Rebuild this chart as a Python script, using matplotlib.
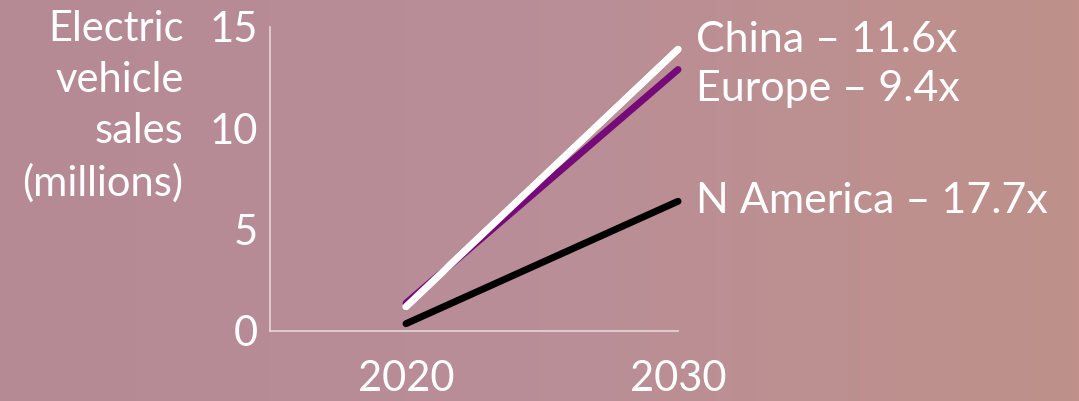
import matplotlib.pyplot as plt
import numpy as np
from matplotlib.colors import LinearSegmentedColormap

plt.rcParams['font.family'] = ['Lato', 'DejaVu Sans']

years = [2020, 2030]
china = [1.2, 13.9]
europe = [1.37, 12.9]
n_america = [0.36, 6.4]
labels = ['China \u2013 11.6x', 'Europe \u2013 9.4x', 'N America \u2013 17.7x']
colours = ['white', '#760a78', 'black']
label_offsets = [7, -14, 0]

fig = plt.figure(figsize=(10.79, 4.01), dpi=100)

# background gradient
bg = fig.add_axes([0, 0, 1, 1], zorder=-1)
cmap = LinearSegmentedColormap.from_list('bg', ['#b68a95', '#ba8e98', '#bf918a'])
grad = np.linspace(0, 1, 256).reshape(1, -1)
bg.imshow(grad, aspect='auto', cmap=cmap, extent=[0, 1, 0, 1])
bg.axis('off')

ax = fig.add_axes([0.2502, 0.1746, 0.3782, 0.7581])
ax.patch.set_alpha(0)

for series, col, lab, off in zip([china, europe, n_america], colours, labels, label_offsets):
    ax.plot(years, series, color=col, lw=5, solid_capstyle='round', clip_on=False)
    ax.annotate(lab, xy=(years[-1], series[-1]), xytext=(13, off),
                textcoords='offset points', va='center', ha='left',
                color='white', fontsize=31, annotation_clip=False)

# redraw china on top of europe
ax.plot(years, china, color='white', lw=5, solid_capstyle='round', clip_on=False)

ax.set_xlim(2015, 2030)
ax.set_ylim(0, 15)
ax.set_xticks(years)
ax.set_yticks([0, 5, 10, 15])
for s in ['top', 'right']:
    ax.spines[s].set_visible(False)
for s in ['left', 'bottom']:
    ax.spines[s].set_color('#e6d6da')
    ax.spines[s].set_linewidth(1.2)
ax.tick_params(axis='both', length=0, colors='white', labelsize=30)
ax.tick_params(axis='x', pad=21)
ax.tick_params(axis='y', pad=9)

fig.text(0.17, 0.975, 'Electric\nvehicle\nsales\n(millions)', ha='right', va='top',
         color='white', fontsize=30, linespacing=1.42)

fig.savefig('out.png', dpi=100)
